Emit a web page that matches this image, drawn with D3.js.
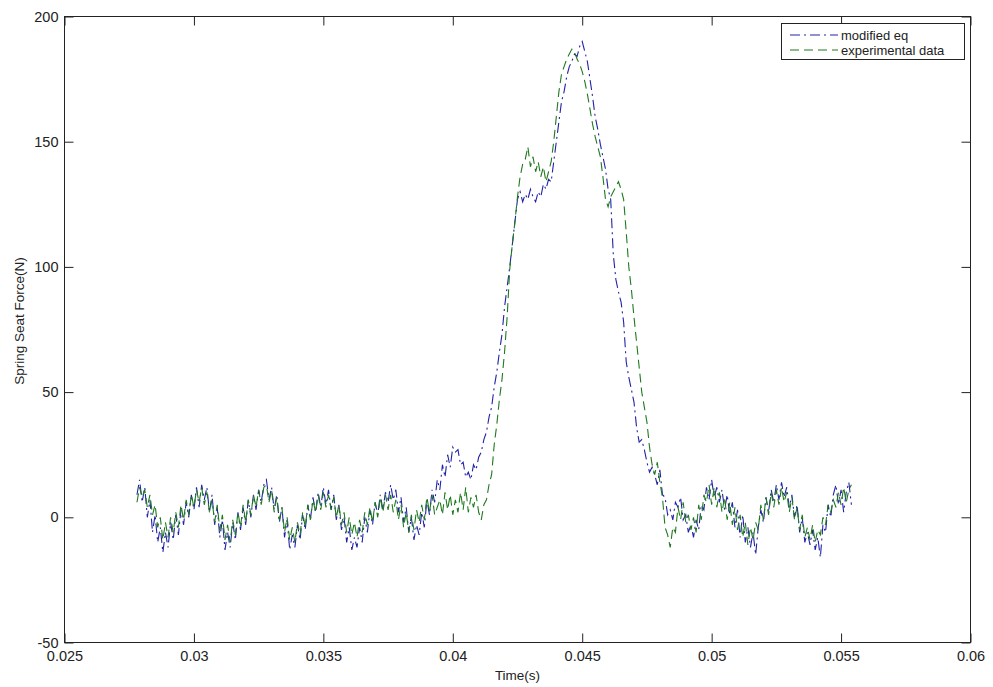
<!DOCTYPE html>
<html lang="en">
<head>
    <meta charset="UTF-8">
    <title>Spring Seat Force</title>
    <script src="https://d3js.org/d3.v7.min.js"></script>
    <style>
        body { margin: 0; background: #fff; }
        svg { display: block; font-family: "Liberation Sans", Arial, sans-serif; }
        .tick line { stroke: #222; }
        .tick text { fill: #222; font-size: 14.5px; }
    </style>
</head>
<body>
    <svg id="chart" width="993" height="687"></svg>

    <script>
        // sampling of both signals
        const tStart = 0.0278;
        const tStep = 0.0001;

        const xTicks = [0.025, 0.03, 0.035, 0.04, 0.045, 0.05, 0.055, 0.06];
        const yTicks = [-50, 0, 50, 100, 150, 200];
        const seriesNames = ["modified eq", "experimental data"];

        // one value per sample
        const modifiedEq = [
            9, 15, 6, 12, 0, 7, -6, 1, -10, -4,
            -14, -6, -12, -2, -9, 1, -7, 3, -3, 6,
            0, 9, 3, 12, 4, 13, 7, 12, 2, 9,
            -3, 4, -8, -1, -13, -6, -12, -2, -9, 2,
            -5, 4, -3, 7, 0, 9, 3, 11, 6, 13,
            15, 7, 12, 3, 9, -2, 4, -8, -1, -13,
            -7, -12, -3, -9, 1, -5, 5, -1, 8, 2,
            10, 4, 12, 5, 11, 3, 9, -1, 5, -5,
            0, -10, -4, -13, -8, -12, -4, -10, 0, -6,
            3, -3, 6, 1, 9, 3, 10, 6, 13, 7,
            11, 2, 8, -2, 4, -6, 0, -9, -3, -7,
            2, -4, 7, 1, 11, 6, 15, 11, 21, 16,
            25, 20, 28, 26, 27, 21, 22, 16, 18, 15,
            21, 19, 24, 26, 31, 34, 40, 44, 52, 58,
            66, 73, 84, 92, 100, 109, 118, 127, 130, 126,
            129, 127, 131, 128, 126, 130, 128, 133, 131, 135,
            134, 142, 150, 158, 166, 170, 176, 180, 182, 185,
            184, 188, 190, 186, 182, 175, 168, 160, 155, 149,
            144, 139, 131, 127, 105, 95, 90, 86, 78, 62,
            56, 51, 46, 36, 30, 31, 27, 22, 18, 20,
            17, 13, 19, 9, 8, 1, 3, -1, 6, 4,
            8, -1, 1, -6, -3, -8, -1, -5, 5, 3,
            12, 7, 15, 8, 12, 6, 11, 3, 9, 1,
            6, -4, 3, -8, 1, -10, -4, -12, -6, -15,
            -4, 3, -2, 8, 2, 11, 6, 13, 7, 14,
            8, 12, 4, 9, 0, 5, -6, 0, -10, -6,
            -11, -5, -13, -8, -16, -3, -6, 5, 0, 9,
            13, 5, 11, 2, 10, 14, 5
        ];

        const experimental = [
            6, 12, 8, 11, 4, 9, 1, 5, -4, 0,
            -9, -2, -8, 0, -6, 2, -4, 5, -1, 7,
            1, 9, 4, 11, 6, 12, 5, 10, 2, 7,
            -2, 5, -5, 1, -9, -3, -10, -1, -7, 2,
            -4, 5, -2, 7, 1, 9, 4, 11, 5, 12,
            13, 6, 11, 2, 8, -1, 4, -6, 0, -9,
            -4, -10, -2, -7, 2, -4, 5, -1, 7, 2,
            9, 3, 10, 4, 9, 3, 8, 0, 5, -3,
            2, -6, 0, -7, -2, -8, -1, -6, 2, -3,
            4, -2, 6, 0, 8, 2, 9, 3, 9, 2,
            7, -1, 5, -4, 2, -6, 1, -5, 3, -2,
            5, -1, 8, 2, 9, 1, 4, 7, 1, 10,
            3, 9, 1, 7, 2, 10, 3, 12, 2, 8,
            4, 9, 2, -1, 5, 7, 13, 17, 29, 37,
            47, 55, 66, 80, 99, 109, 118, 128, 136, 141,
            143, 148, 140, 144, 138, 142, 136, 140, 134, 138,
            142, 150, 160, 170, 177, 180, 183, 185, 187, 186,
            183, 181, 178, 174, 169, 163, 157, 152, 148, 144,
            136, 127, 124, 128, 130, 132, 134, 131, 127, 114,
            100, 91, 80, 70, 60, 50, 44, 38, 28, 21,
            17, 22, 14, 8, -4, -7, -12, -4, -6, 4,
            -1, 6, -2, 1, -5, 0, -6, 5, -1, 9,
            6, 13, 5, 12, 4, 10, 2, 8, -1, 6,
            -3, 4, -5, 1, -8, -2, -11, -4, -9, -2,
            -5, 5, -1, 8, 1, 10, 4, 11, 5, 12,
            6, 10, 2, 8, -1, 4, -5, 1, -8, -4,
            -9, -3, -10, -5, -7, 0, -3, 5, 2, 7,
            4, 10, 5, 12, 6, 11, 13
        ];

        const svg = d3.select("#chart");

        // plot box
        const boxLeft = 64.5, boxRight = 970.5, boxTop = 16.5, boxBottom = 642.5;

        const x = d3.scaleLinear().domain([0.025, 0.06]).range([boxLeft, boxRight]);
        const y = d3.scaleLinear().domain([-50, 200]).range([boxBottom, boxTop]);

        const styles = [
            { color: "#2222a8", dash: "10,4,2,4" },
            { color: "#1f7a1f", dash: "9,5" }
        ];

        const toPoints = vals => vals.map((v, i) => [tStart + i * tStep, v]);

        const line = d3.line()
            .x(d => x(d[0]))
            .y(d => y(d[1]));

        // axes, ticks pointing inward on all four sides
        svg.append("g")
            .attr("transform", `translate(0,${boxBottom})`)
            .call(d3.axisBottom(x).tickValues(xTicks).tickFormat(d => String(d))
                .tickSizeInner(-9).tickSizeOuter(0).tickPadding(8))
            .call(g => g.select(".domain").remove());

        svg.append("g")
            .attr("transform", `translate(0,${boxTop})`)
            .call(d3.axisTop(x).tickValues(xTicks).tickFormat("")
                .tickSizeInner(-9).tickSizeOuter(0))
            .call(g => g.select(".domain").remove());

        svg.append("g")
            .attr("transform", `translate(${boxLeft},0)`)
            .call(d3.axisLeft(y).tickValues(yTicks).tickFormat(d => String(d))
                .tickSizeInner(-9).tickSizeOuter(0).tickPadding(6))
            .call(g => g.select(".domain").remove());

        svg.append("g")
            .attr("transform", `translate(${boxRight},0)`)
            .call(d3.axisRight(y).tickValues(yTicks).tickFormat("")
                .tickSizeInner(-9).tickSizeOuter(0))
            .call(g => g.select(".domain").remove());

        // data lines
        [modifiedEq, experimental].forEach((vals, k) => {
            svg.append("path")
                .datum(toPoints(vals))
                .attr("d", line)
                .attr("fill", "none")
                .attr("stroke", styles[k].color)
                .attr("stroke-width", 1.1)
                .attr("stroke-dasharray", styles[k].dash);
        });

        // box
        svg.append("rect")
            .attr("x", boxLeft).attr("y", boxTop)
            .attr("width", boxRight - boxLeft).attr("height", boxBottom - boxTop)
            .attr("fill", "none")
            .attr("stroke", "#222");

        // axis labels
        svg.append("text")
            .attr("x", (boxLeft + boxRight) / 2)
            .attr("y", 680)
            .attr("text-anchor", "middle")
            .style("font-size", "13.5px")
            .attr("fill", "#222")
            .text("Time(s)");

        svg.append("text")
            .attr("transform", "translate(24,321) rotate(-90)")
            .attr("text-anchor", "middle")
            .style("font-size", "13.5px")
            .attr("fill", "#222")
            .text("Spring Seat Force(N)");

        // legend
        const legend = svg.append("g");
        legend.append("rect")
            .attr("x", 781.5).attr("y", 23.5)
            .attr("width", 183).attr("height", 36)
            .attr("fill", "#fff")
            .attr("stroke", "#222");

        seriesNames.forEach((name, i) => {
            const ly = 35 + i * 15;
            legend.append("line")
                .attr("x1", 790).attr("x2", 838)
                .attr("y1", ly).attr("y2", ly)
                .attr("stroke", styles[i].color)
                .attr("stroke-width", 1.1)
                .attr("stroke-dasharray", styles[i].dash);
            legend.append("text")
                .attr("x", 841)
                .attr("y", ly)
                .attr("dy", "0.35em")
                .style("font-size", "13px")
                .attr("fill", "#222")
                .text(name);
        });
    </script>
</body>
</html>
